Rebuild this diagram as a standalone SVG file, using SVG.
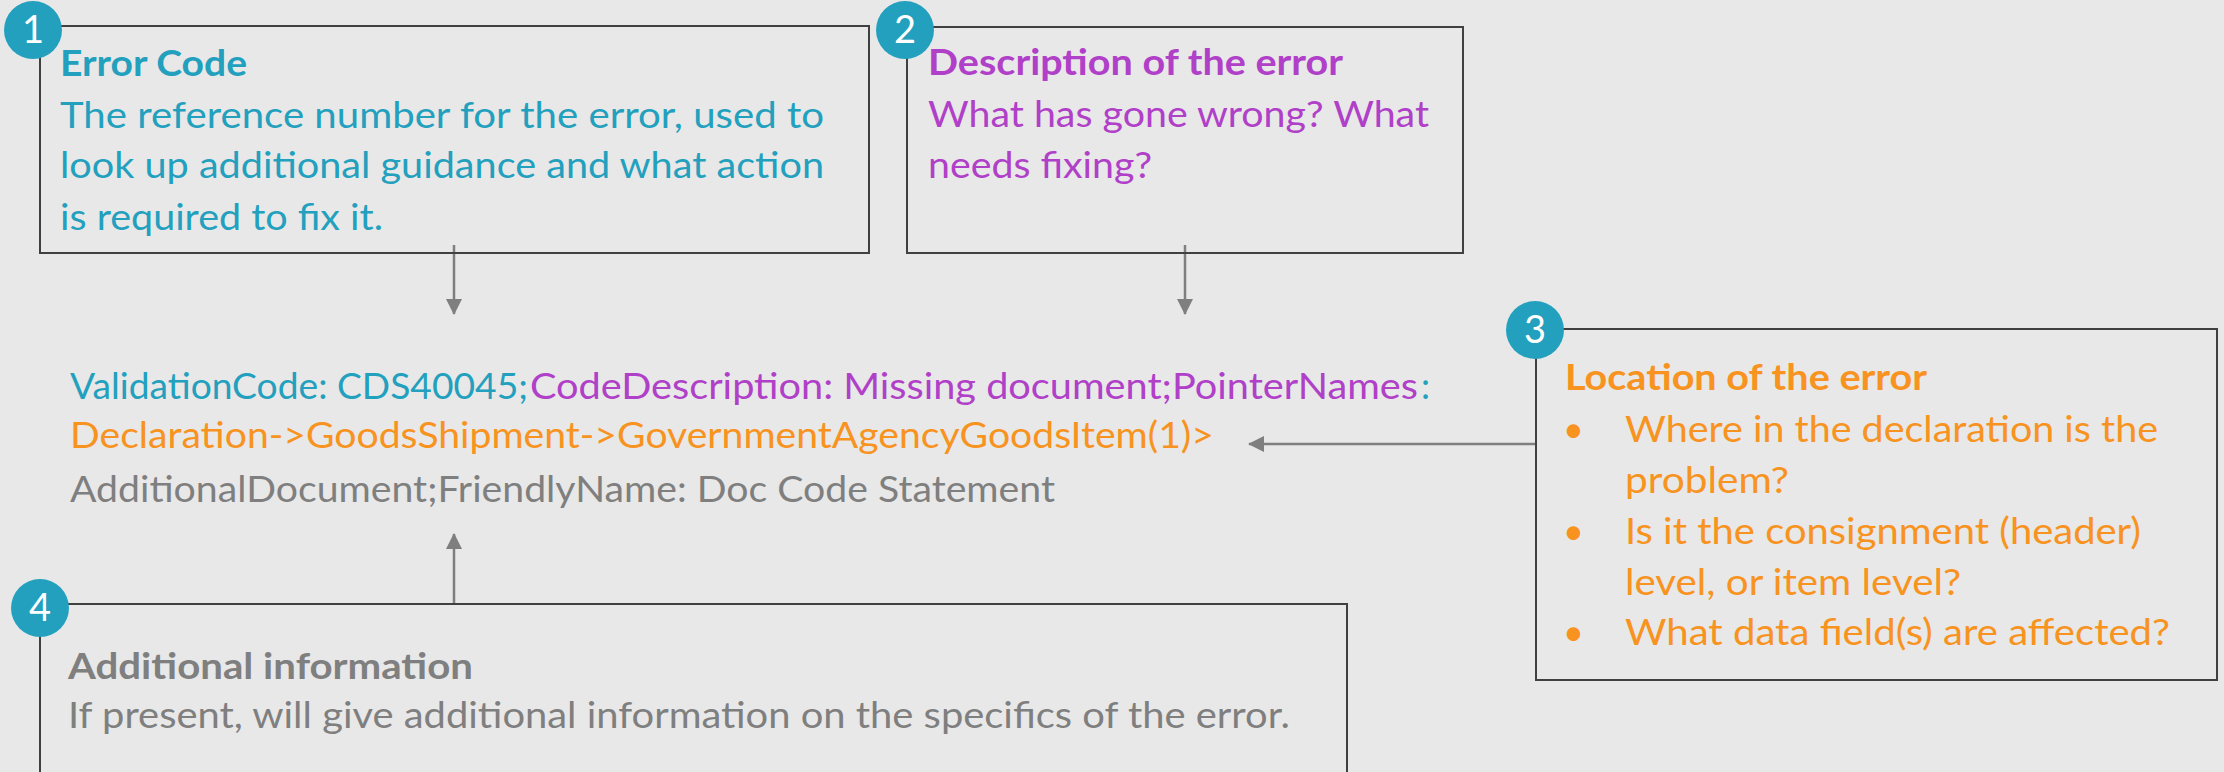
<svg xmlns="http://www.w3.org/2000/svg" width="2224" height="772" viewBox="0 0 2224 772">
<style>
text{font-family:Lato,"Liberation Sans",sans-serif;font-size:36px}
.b{font-weight:bold}
.teal{fill:#22A0BE}
.purple{fill:#B040C8}
.orange{fill:#F7931E}
.gray{fill:#7F7F7F}
.box{fill:none;stroke:#404040;stroke-width:2}
.badge{fill:#22A0BE}
.num{fill:#FFFFFF;font-size:38px;text-anchor:middle}
.conn{stroke:#7F7F7F;stroke-width:2.5;fill:none}
</style>
<defs>
<marker id="ah" viewBox="0 0 16 16" refX="15" refY="8" markerWidth="16" markerHeight="16" markerUnits="userSpaceOnUse" orient="auto">
<path d="M0,0 L16,8 L0,16 Z" fill="#7F7F7F"/>
</marker>
</defs>
<rect width="2224" height="772" fill="#E8E8E8"/>

<g id="connectors">
<line class="conn" x1="454" y1="245" x2="454" y2="314" marker-end="url(#ah)"/>
<line class="conn" x1="1185" y1="245" x2="1185" y2="314" marker-end="url(#ah)"/>
<line class="conn" x1="1535" y1="444" x2="1249" y2="444" marker-end="url(#ah)"/>
<line class="conn" x1="454" y1="604" x2="454" y2="534" marker-end="url(#ah)"/>
</g>

<g id="node1">
<rect class="box" x="40" y="26" width="829" height="227"/>
<circle class="badge" cx="33" cy="30" r="29"/>
<text class="num" x="33" y="43">1</text>
<text class="b teal" x="60" y="76" textLength="187" lengthAdjust="spacingAndGlyphs">Error Code</text>
<text class="teal" x="60" y="128" textLength="764" lengthAdjust="spacingAndGlyphs">The reference number for the error, used to</text>
<text class="teal" x="60" y="178" textLength="764" lengthAdjust="spacingAndGlyphs">look up additional guidance and what action</text>
<text class="teal" x="60" y="230" textLength="323" lengthAdjust="spacingAndGlyphs">is required to fix it.</text>
</g>

<g id="node2">
<rect class="box" x="907" y="27" width="556" height="226"/>
<circle class="badge" cx="905" cy="30" r="29"/>
<text class="num" x="905" y="43">2</text>
<text class="b purple" x="928" y="75" textLength="415" lengthAdjust="spacingAndGlyphs">Description of the error</text>
<text class="purple" x="928" y="127" textLength="501" lengthAdjust="spacingAndGlyphs">What has gone wrong? What</text>
<text class="purple" x="928" y="178" textLength="224" lengthAdjust="spacingAndGlyphs">needs fixing?</text>
</g>

<g id="node3">
<rect class="box" x="1536" y="329" width="681" height="351"/>
<circle class="badge" cx="1535" cy="330" r="29"/>
<text class="num" x="1535" y="343">3</text>
<text class="b orange" x="1565" y="390" textLength="362" lengthAdjust="spacingAndGlyphs">Location of the error</text>
<text class="orange" x="1563" y="442">•</text>
<text class="orange" x="1625" y="442" textLength="533" lengthAdjust="spacingAndGlyphs">Where in the declaration is the</text>
<text class="orange" x="1625" y="493" textLength="164" lengthAdjust="spacingAndGlyphs">problem?</text>
<text class="orange" x="1563" y="544">•</text>
<text class="orange" x="1625" y="544" textLength="516" lengthAdjust="spacingAndGlyphs">Is it the consignment (header)</text>
<text class="orange" x="1625" y="595" textLength="336" lengthAdjust="spacingAndGlyphs">level, or item level?</text>
<text class="orange" x="1563" y="645">•</text>
<text class="orange" x="1625" y="645" textLength="545" lengthAdjust="spacingAndGlyphs">What data field(s) are affected?</text>
</g>

<g id="message">
<text class="teal" x="70" y="399" textLength="458" lengthAdjust="spacingAndGlyphs">ValidationCode: CDS40045;</text>
<text class="purple" x="530" y="399" textLength="888" lengthAdjust="spacingAndGlyphs">CodeDescription: Missing document;PointerNames</text>
<text class="teal" x="1421" y="399">:</text>
<text class="orange" x="70" y="448" textLength="1144" lengthAdjust="spacingAndGlyphs">Declaration-&gt;GoodsShipment-&gt;GovernmentAgencyGoodsItem(1)&gt;</text>
<text class="gray" x="70" y="502" textLength="985" lengthAdjust="spacingAndGlyphs">AdditionalDocument;FriendlyName: Doc Code Statement</text>
</g>

<g id="node4">
<rect class="box" x="40" y="604" width="1307" height="220"/>
<circle class="badge" cx="40" cy="608" r="29"/>
<text class="num" x="40" y="621">4</text>
<text class="b gray" x="68" y="679" textLength="405" lengthAdjust="spacingAndGlyphs">Additional information</text>
<text class="gray" x="68" y="728" textLength="1222" lengthAdjust="spacingAndGlyphs">If present, will give additional information on the specifics of the error.</text>
</g>
</svg>
